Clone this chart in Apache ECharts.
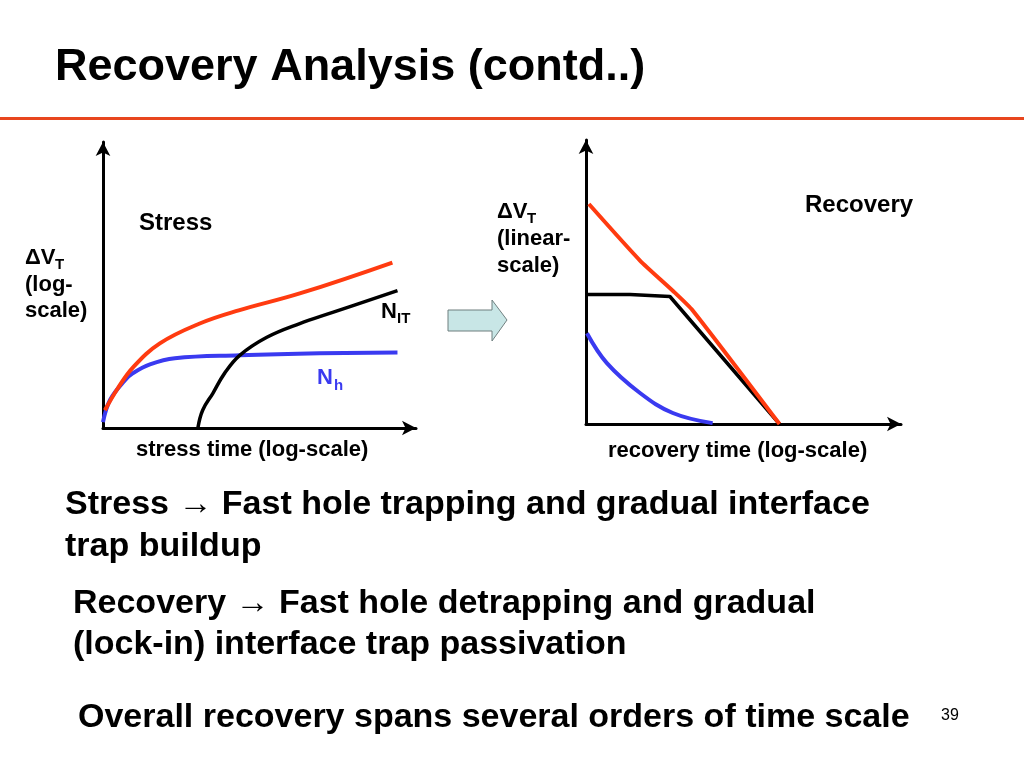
<!DOCTYPE html>
<html><head><meta charset="utf-8">
<script src="https://cdn.jsdelivr.net/npm/echarts@6/dist/echarts.min.js"></script>
<style>html,body{margin:0;padding:0;background:#fff}#c{width:1024px;height:768px}</style>
</head><body><div id="c"></div>
<script>
// ---- Stress panel (schematic, x/y in 0..100 units) ----
const stressTotal = [[0.6,6.1],[4.7,13.7],[9.4,20.8],[17.8,29.0],[30.3,35.8],[42.5,40.3],[61.6,46.1],[90.6,56.7]];
const stressNh    = [[0,2.0],[2.2,9.6],[6.9,16.4],[9.4,18.8],[14.7,21.8],[22.5,23.9],[42.8,24.9],[67.8,25.6],[92.2,25.9]];
const stressNit   = [[29.7,0],[31.2,6.1],[34.4,11.9],[38.1,18.8],[42.8,24.9],[51.3,31.1],[61.6,35.8],[71.9,39.6],[92.2,47.1]];
// ---- Recovery panel ----
const recTotal = [[0.9,75.9],[16.8,56.4],[27.0,46.0],[33.2,39.2],[60.2,0]];
const recNit   = [[0,44.7],[13.7,44.7],[26.1,44.0],[60.2,0]];
const recNh    = [[0.3,31.3],[6.5,21.0],[16.8,10.7],[27.0,3.8],[39.4,0.3]];

const RED='#ff3b10', BLUE='#3a3af0', BLACK='#000';
const chart = echarts.init(document.getElementById('c'), null, {renderer:'canvas'});
const axisCommon = (gi) => ({
  type:'value', gridIndex:gi, min:0, max:98,
  axisLine:{show:true, onZero:false, symbol:['none','arrow'], symbolSize:[11,14], lineStyle:{color:'#000', width:3}},
  axisTick:{show:false}, axisLabel:{show:false}, splitLine:{show:false}
});
const ln = (name, data, color, xi, smooth, w) => ({
  type:'line', name, data, xAxisIndex:xi, yAxisIndex:xi, smooth, symbol:'none',
  lineStyle:{color, width:w||4}, clip:false, z:3
});
const F='"Liberation Sans", Arial, sans-serif';
const txt = (x,y,text,size,opts) => Object.assign({type:'text', x, y, z:10,
  style:Object.assign({text, font:'bold '+size+'px '+F, fill:'#000', align:'left', verticalAlign:'middle'}, (opts||{}))});
chart.setOption({
  animation:false,
  grid:[{left:103, top:142, width:313, height:286},{left:586, top:140, width:315, height:284}],
  xAxis:[axisCommon(0), axisCommon(1)],
  yAxis:[axisCommon(0), axisCommon(1)],
  series:[
    ln('Nh', stressNh, BLUE, 0, 0.4),
    ln('NIT', stressNit, BLACK, 0, 0.4, 3.5),
    ln('Total', stressTotal, RED, 0, 0.4),
    ln('Nh rec', recNh, BLUE, 1, 0.4),
    ln('NIT rec', recNit, BLACK, 1, false, 3.5),
    ln('Total rec', recTotal, RED, 1, 0.2)
  ],
  graphic:[
    txt(55,68,'Recovery Analysis (contd..)',45),
    {type:'rect', shape:{x:0, y:117, width:1024, height:3}, style:{fill:'#e8461e'}},
    txt(139,223,'Stress',24),
    txt(25,258,'\u0394V',22), txt(55,265,'T',15),
    txt(25,285,'(log-',22), txt(25,311,'scale)',22),
    txt(381,312,'N',22), txt(397,319,'IT',15),
    txt(317,378,'N',22,{fill:BLUE}), txt(334,386,'h',15,{fill:BLUE}),
    txt(136,450,'stress time (log-scale)',22),
    txt(805,205,'Recovery',24),
    txt(497,212,'\u0394V',22), txt(527,219,'T',15),
    txt(497,239,'(linear-',22), txt(497,266,'scale)',22),
    txt(608,451,'recovery time (log-scale)',22),
    {type:'polygon', shape:{points:[[448,310],[492,310],[492,300],[507,320],[492,341],[492,331],[448,331]]},
      style:{fill:'#c8e6e6', stroke:'#6f7f7f', lineWidth:1}},
    txt(65,505,'Stress \u2192 Fast hole trapping and gradual interface',34),
    txt(65,547,'trap buildup',34),
    txt(73,604,'Recovery \u2192 Fast hole detrapping and gradual',34),
    txt(73,645,'(lock-in) interface trap passivation',34),
    txt(78,718,'Overall recovery spans several orders of time scale',34),
    {type:'text', x:941, y:716, style:{text:'39', font:'16px '+F, fill:'#000', verticalAlign:'middle'}}
  ]
});
</script></body></html>
